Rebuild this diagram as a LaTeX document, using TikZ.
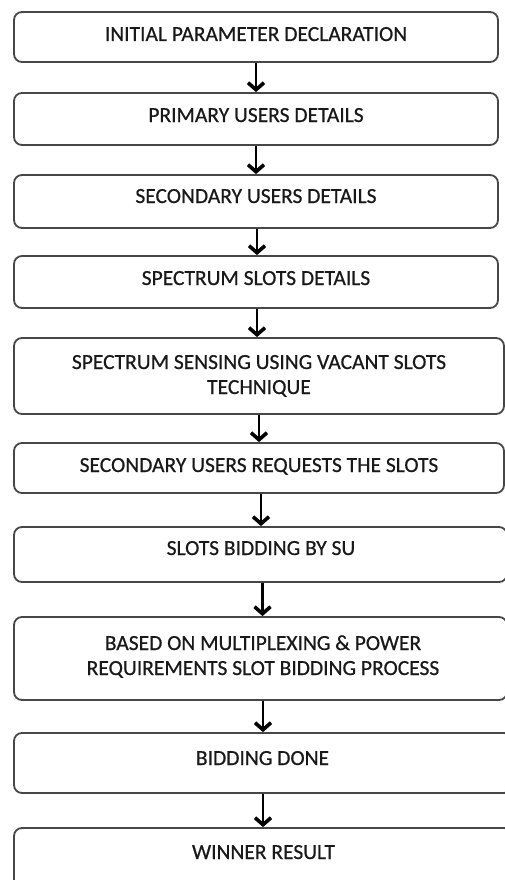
\documentclass[tikz,border=0pt]{standalone}
\usepackage{fontspec}
\setmainfont{Carlito}
\newfontfamily\lblfont{Carlito}[FakeBold=0.6]
\usetikzlibrary{arrows.meta}
\begin{document}
\begin{tikzpicture}[x=1pt,y=-1pt,
  box/.style={draw=black!72, line width=1.8pt, rounded corners=8pt, inner sep=0pt},
  lbl/.style={font=\lblfont\fontsize{21.5}{25}\selectfont, text=black!90, align=center, inner sep=0pt, text height=14pt, text depth=0pt},
  arr/.style={line width=2.8pt, -{Straight Barb[length=7pt,width=16pt,line width=3.6pt]}}]
\useasboundingbox (0,0) rectangle (505,880);
\clip (0,0) rectangle (505,880);
% boxes
\node[box, minimum width=484pt, minimum height=50pt] (b1) at (256,37) {};
\node[box, minimum width=484pt, minimum height=52pt] (b2) at (256,119) {};
\node[box, minimum width=484pt, minimum height=53pt] (b3) at (256,201.5) {};
\node[box, minimum width=484pt, minimum height=52pt] (b4) at (256,282) {};
\node[box, minimum width=490pt, minimum height=76pt] (b5) at (259,376) {};
\node[box, minimum width=490pt, minimum height=50pt] (b6) at (259,468) {};
\node[box, minimum width=493pt, minimum height=55pt] (b7) at (260.5,554.5) {};
\node[box, minimum width=493pt, minimum height=83pt] (b8) at (260.5,658.5) {};
\node[box, minimum width=498pt, minimum height=60pt] (b9) at (263,763) {};
\node[box, minimum width=498pt, minimum height=72pt] (b10) at (263,864) {};
% labels
\node[lbl] (t1) at (256,34) {INITIAL PARAMETER DECLARATION};
\node[lbl] (t2) at (256,115) {PRIMARY USERS DETAILS};
\node[lbl] (t3) at (256,196) {SECONDARY USERS DETAILS};
\node[lbl] (t4) at (256,278) {SPECTRUM SLOTS DETAILS};
\node[lbl] (t5) at (259,387) {SPECTRUM SENSING USING VACANT SLOTS\\TECHNIQUE};
\node[lbl] (t6) at (259,465) {SECONDARY USERS REQUESTS THE SLOTS};
\node[lbl] (t7) at (261,548) {SLOTS BIDDING BY SU};
\node[lbl] (t8) at (263,668) {BASED ON MULTIPLEXING \& POWER\\REQUIREMENTS SLOT BIDDING PROCESS};
\node[lbl] (t9) at (262.5,758) {BIDDING DONE};
\node[lbl] (t10) at (263.5,852) {WINNER RESULT};
% arrows
\draw[arr] (b1.south) -- (b1.south |- b2.north);
\draw[arr] (b2.south) -- (b2.south |- b3.north);
\draw[arr] ([xshift=1pt]b3.south) -- ([xshift=1pt]b3.south |- b4.north);
\draw[arr] ([xshift=1pt]b4.south) -- ([xshift=1pt]b4.south |- b5.north);
\draw[arr] (b5.south) -- (b5.south |- b6.north);
\draw[arr] ([xshift=2pt]b6.south) -- ([xshift=2pt]b6.south |- b7.north);
\draw[arr] ([xshift=2pt]b7.south) -- ([xshift=2pt]b7.south |- b8.north);
\draw[arr] ([xshift=2.5pt]b8.south) -- ([xshift=2.5pt]b8.south |- b9.north);
\draw[arr] (b9.south) -- (b9.south |- b10.north);
\end{tikzpicture}
\end{document}
